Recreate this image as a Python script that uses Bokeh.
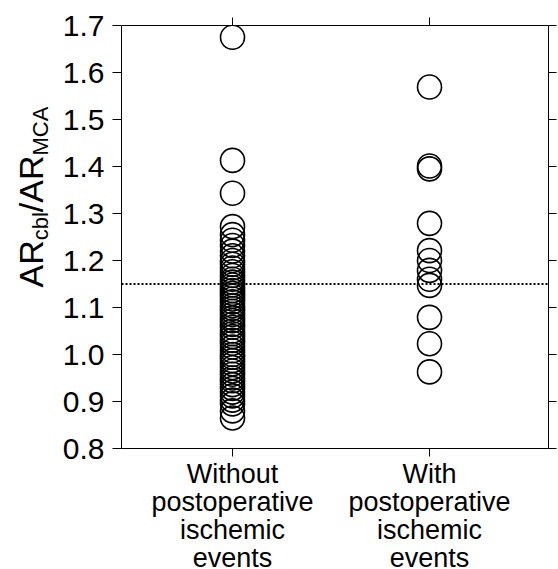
from bokeh.plotting import figure
from bokeh.layouts import row, column
from bokeh.models import FixedTicker, LinearAxis, Span, Range1d, PrintfTickFormatter, ColumnDataSource
from bokeh.core.properties import value
from bokeh.embed import file_html
from bokeh.resources import INLINE
import math

# ---- data ----
cat_x = [1, 2]
cat_lines = [["Without", "postoperative", "ischemic", "events"],
             ["With", "postoperative", "ischemic", "events"]]

without_vals = [1.675, 1.413, 1.343, 1.272, 1.255, 1.243, 1.232, 1.220, 1.210, 1.200,
                1.192, 1.184, 1.176, 1.168, 1.160, 1.154, 1.148, 1.142, 1.136, 1.130,
                1.124, 1.118, 1.112, 1.104, 1.098, 1.092, 1.085, 1.078, 1.072, 1.064,
                1.058, 1.050, 1.044, 1.038, 1.030, 1.024, 1.016, 1.008, 1.000, 0.994,
                0.987, 0.980, 0.972, 0.965, 0.958, 0.950, 0.944, 0.936, 0.928, 0.920,
                0.912, 0.903, 0.895, 0.880, 0.865]
with_vals = [1.569, 1.401, 1.395, 1.279, 1.221, 1.200, 1.179, 1.160, 1.147, 1.079, 1.023, 0.963]
threshold = 1.15
y_ticks = [0.8, 0.9, 1.0, 1.1, 1.2, 1.3, 1.4, 1.5, 1.6, 1.7]
ylabel_pieces = ["AR", "cbl", "/AR", "MCA"]
ylabel_is_sub = [False, True, False, True]

FONT = "Liberation Sans"
TOTAL_W, TOTAL_H = 558, 569
LEFT_W = 52          # strip for the y-axis title
MAIN_H = 460         # main plot height (frame bottom at 448, room for ticks and "0.8")
BOTTOM_H = TOTAL_H - MAIN_H
FRAME_L = 121
FRAME_R_BORDER = 10

# ---- main plot ----
x_range = Range1d(0.4365, 2.604)
p = figure(width=TOTAL_W - LEFT_W, height=MAIN_H, title=None,
           x_range=x_range, y_range=Range1d(0.8, 1.7),
           output_backend="svg", toolbar_location=None,
           min_border_left=FRAME_L - LEFT_W, min_border_right=FRAME_R_BORDER,
           min_border_top=25, min_border_bottom=MAIN_H - 448)
p.grid.visible = False
p.outline_line_color = None

ya = p.yaxis[0]
ya.ticker = FixedTicker(ticks=y_ticks)
ya.formatter = PrintfTickFormatter(format="%.1f")
ya.major_tick_out = 9
ya.major_tick_in = 0
ya.minor_tick_line_color = None
ya.major_label_standoff = 8
ya.major_label_text_font = FONT
ya.major_label_text_font_size = "30px"
ya.major_label_text_color = "black"
ya.axis_line_color = "black"
ya.major_tick_line_color = "black"

xa = p.xaxis[0]
xa.ticker = FixedTicker(ticks=cat_x)
xa.major_label_text_font_size = "0px"
xa.major_label_standoff = 0
xa.major_tick_out = 8
xa.major_tick_in = 0
xa.minor_tick_line_color = None
xa.axis_line_color = "black"
xa.major_tick_line_color = "black"

ra = LinearAxis(ticker=FixedTicker(ticks=y_ticks), major_label_text_font_size="0px",
                major_label_standoff=0, major_tick_out=8, major_tick_in=0,
                minor_tick_line_color=None, axis_line_color="black", major_tick_line_color="black")
p.add_layout(ra, "right")
ta = LinearAxis(ticker=FixedTicker(ticks=cat_x), major_label_text_font_size="0px",
                major_label_standoff=0, major_tick_out=8, major_tick_in=0,
                minor_tick_line_color=None, axis_line_color="black", major_tick_line_color="black")
p.add_layout(ta, "above")

p.add_layout(Span(location=threshold, dimension="width", line_color="black",
                  line_dash="2 2", line_width=2))

p.scatter(x=[cat_x[0]] * len(without_vals), y=without_vals, marker="circle", size=24,
          fill_color=None, line_color="black", line_width=1.6)
p.scatter(x=[cat_x[1]] * len(with_vals), y=with_vals, marker="circle", size=24,
          fill_color=None, line_color="black", line_width=1.6)

# ---- bottom strip: category labels (shares the x scale of the main plot) ----
r = figure(width=TOTAL_W - LEFT_W, height=BOTTOM_H, title=None,
           x_range=x_range, y_range=Range1d(0, BOTTOM_H),
           output_backend="svg", toolbar_location=None,
           x_axis_location=None, y_axis_location=None,
           min_border_left=FRAME_L - LEFT_W, min_border_right=FRAME_R_BORDER,
           min_border_top=0, min_border_bottom=0)
r.grid.visible = False
r.outline_line_color = None
line_gap = 28
first_anchor = 13.5   # px below the top of the strip (text is centred on its anchor)
bx, by, bt = [], [], []
for cx, lines in zip(cat_x, cat_lines):
    for i, t in enumerate(lines):
        bx.append(cx)
        by.append(BOTTOM_H - (first_anchor + line_gap * i))
        bt.append(t)
r.text(x=bx, y=by, text=bt, text_font=value(FONT), text_font_size="27px",
       text_align="center", text_baseline="alphabetic", text_color="black")

# ---- left strip: composite y-axis title ----
q = figure(width=LEFT_W, height=TOTAL_H, title=None,
           x_range=Range1d(0, LEFT_W), y_range=Range1d(0, TOTAL_H),
           output_backend="svg", toolbar_location=None,
           x_axis_location=None, y_axis_location=None,
           min_border_left=0, min_border_right=0, min_border_top=0, min_border_bottom=0)
q.grid.visible = False
q.outline_line_color = None

big, small = 34, 22
char_w = {"A": 0.667, "R": 0.722, "/": 0.278, "c": 0.5, "b": 0.556, "l": 0.222,
          "M": 0.833, "C": 0.722}
big_x, sub_x = 30, 40   # horizontal anchors (px from left)
start_y = 287           # start of the title (px from top); the text runs upward
xs, ys, texts, sizes = [], [], [], []
pos = start_y
for t, sub in zip(ylabel_pieces, ylabel_is_sub):
    fs = small if sub else big
    xs.append(sub_x if sub else big_x)
    ys.append(TOTAL_H - pos)
    texts.append(t)
    sizes.append(f"{fs}px")
    pos -= sum(char_w[c] for c in t) * fs
src = ColumnDataSource(dict(x=xs, y=ys, text=texts, size=sizes))
q.text(x="x", y="y", text="text", source=src, angle=math.pi / 2,
       text_font=value(FONT), text_font_size="size", text_align="left",
       text_baseline="alphabetic", text_color="black")

layout = row(q, column(p, r, spacing=0), spacing=0)
open("out.html", "w").write(file_html(layout, INLINE))
